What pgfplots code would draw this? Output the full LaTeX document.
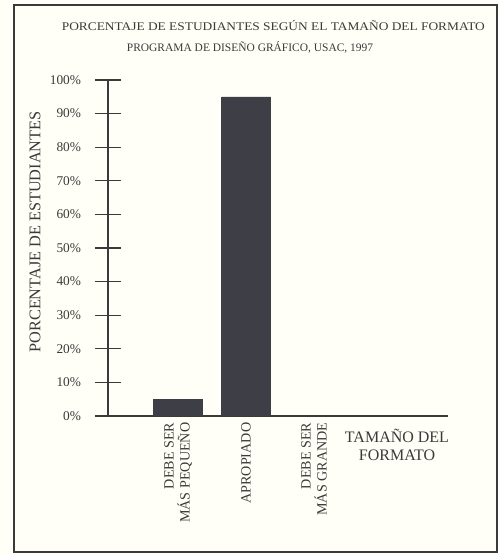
\documentclass[border=0pt]{standalone}
\usepackage{pgfplots}
\pgfplotsset{compat=1.18}
\usepackage{fontspec}
\setmainfont{Liberation Serif}
\definecolor{bardark}{HTML}{3E3E46}
\definecolor{inkgray}{HTML}{3A3A3A}
\begin{document}
\begin{tikzpicture}
\useasboundingbox (0pt,0pt) rectangle (374.25pt,416.25pt);
\fill[white!97!yellow] (0pt,0pt) rectangle (374.25pt,416.25pt);
\draw[inkgray, line width=1.6pt] (10.5pt,2.25pt) rectangle (372.75pt,412.5pt);
\node[font=\fontsize{8.8}{10}\selectfont, inkgray] at (205pt,396.75pt) {\scalebox{1.14}[1]{PORCENTAJE DE ESTUDIANTES SEGÚN EL TAMAÑO DEL FORMATO}};
\node[font=\fontsize{8.6}{10}\selectfont, inkgray] at (187.5pt,381pt) {PROGRAMA DE DISEÑO GRÁFICO, USAC, 1997};
\node[rotate=90, font=\fontsize{12.2}{14}\selectfont, inkgray] at (26.25pt,242.25pt) {PORCENTAJE DE ESTUDIANTES};
\begin{axis}[
  at={(81pt,104.25pt)}, anchor=south west,
  scale only axis, width=255pt, height=252pt,
  xmin=-0.03, xmax=4.97, ymin=0, ymax=100,
  axis x line=bottom, axis y line=left,
  axis line style={-, inkgray, line width=1pt},
  ytick={0,10,...,100},
  yticklabel={\pgfmathprintnumber{\tick}\%},
  /pgf/number format/assume math mode=true,
  yticklabel style={font=\fontsize{10}{11}\selectfont, inkgray, xshift=-7pt},
  ytick style={inkgray, line width=0.9pt},
  major tick length=19.5pt, tick align=center,
  xtick={1,2,3},
  xticklabels={{DEBE SER\\MÁS PEQUEÑO},{APROPIADO},{DEBE SER\\MÁS GRANDE}},
  xtick style={draw=none},
  xticklabel style={yshift=18pt, rotate=90, anchor=east, align=right, font=\fontsize{10.6}{12}\selectfont, inkgray},
  xlabel={TAMAÑO DEL\\FORMATO},
  xlabel style={at={(axis description cs:0.85,0)}, anchor=north, align=center, font=\fontsize{12}{13.5}\selectfont, inkgray, yshift=-6pt},
  ybar, bar width=0.72, bar shift=0pt,
]
\addplot[fill=bardark, draw=bardark] coordinates {(1,5) (2,95) (3,0)};
\end{axis}
\end{tikzpicture}
\end{document}
